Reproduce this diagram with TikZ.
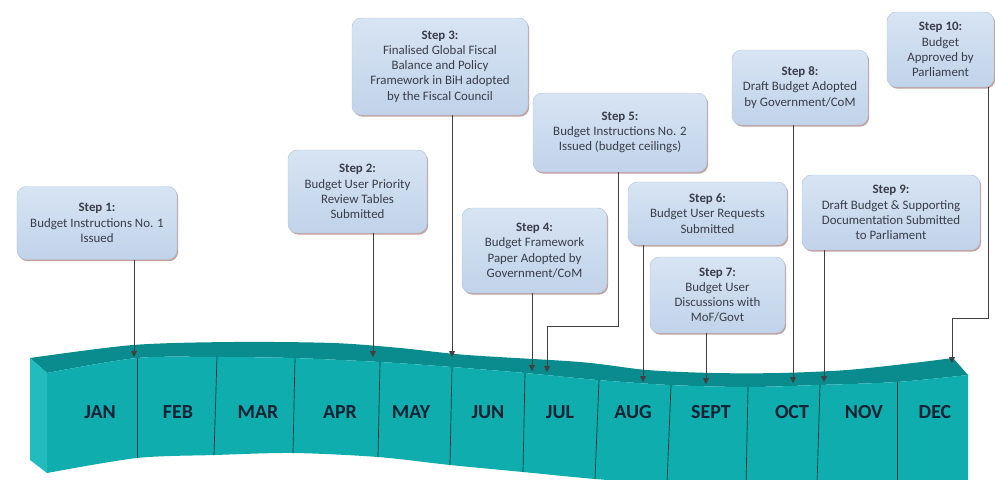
\documentclass[tikz,border=0pt]{standalone}
\usepackage{fontspec}
\setmainfont{Carlito}
\usepackage{tikz}
\usetikzlibrary{arrows.meta,shadows}
\definecolor{boxtop}{HTML}{D7E4F3}
\definecolor{boxbot}{HTML}{C1D3EA}
\definecolor{boxline}{HTML}{B5C6DB}
\definecolor{boxshade}{HTML}{A67875}
\definecolor{steptext}{HTML}{3A3D4A}
\definecolor{bandfront}{HTML}{10ADAF}
\definecolor{bandtop}{HTML}{0A8B8D}
\definecolor{bandside}{HTML}{22BBBE}
\definecolor{monthtext}{HTML}{0E2233}

\begin{document}
\begin{tikzpicture}[x=0.3mm, y=-0.3mm]
    \tikzstyle{stepbox} = [draw=boxline, line width=0.4pt, rounded corners=8pt, top color=boxtop, bottom color=boxbot,
        text=steptext, align=center, inner sep=2pt, font=\fontsize{11}{13}\selectfont,
        drop shadow={shadow xshift=1pt, shadow yshift=-1.4pt, fill=boxshade, opacity=0.7}]
    \tikzstyle{link} = [draw=black!75, line width=0.7pt, -{Triangle[width=5pt,length=5pt]}]
    \tikzstyle{divider} = [draw=black!70!bandfront, line width=0.6pt]
    \tikzstyle{monthlbl} = [text=monthtext, font=\fontsize{17}{17}\selectfont\bfseries]
    \useasboundingbox (0,0) rectangle (995,479);

    \begin{scope}
        \clip (0,0) rectangle (995,479);
        \fill[bandtop] plot[smooth] coordinates {(30,358) (133,345) (233,342) (333,343) (400,348) (467,355) (580,362)
            (647,370) (713,373) (780,373) (847,370) (913,363) (953,358)}
            -- plot[smooth] coordinates {(968,375) (897,382) (818,385) (747,387) (670,385) (598,380) (525,373)
            (452,367) (380,362) (293,358) (217,357) (137,358) (47,373)} -- cycle;
        \fill[bandfront] plot[smooth] coordinates {(47,373) (137,358) (217,357) (293,358) (380,362) (452,367) (525,373)
            (598,380) (670,385) (747,387) (818,385) (897,382) (968,375)}
            -- plot[smooth] coordinates {(968,482) (897,484) (817,486) (746,487) (667,484) (595,479) (523,472)
            (450,465) (378,457) (293,453) (215,455) (137,458) (47,473)} -- cycle;
        \fill[bandside] (30,358) -- (47,373) -- (47,473) -- (30,460) -- cycle;
        \foreach \xa/\ya/\xb/\yb in {137/358/137/458, 217/357/214/455, 295/358/293/453, 380/362/378/457,
            452/367/450/465, 525/373/523/472, 599/380/595/479, 671/385/667/484, 748/387/746/487,
            820/385/817/486, 897/382/897/484} {
            \draw[divider] (\xa,\ya) -- (\xb,\yb);
        }
    \end{scope}

    \foreach \m/\x in {JAN/100, FEB/178, MAR/258, APR/340, MAY/411, JUN/488, JUL/560, AUG/633, SEPT/711,
        OCT/792, NOV/864, DEC/935} {
        \node[monthlbl] (\m) at (\x,412) {\m};
    }

    \node[stepbox, minimum width=48mm, minimum height=21.9mm] (s1) at (97,223)
        {\textbf{Step 1:}\\ Budget Instructions No. 1\\ Issued};
    \node[stepbox, minimum width=41.7mm, minimum height=24.9mm] (s2) at (357.5,191.5)
        {\textbf{Step 2:}\\ Budget User Priority\\ Review Tables\\ Submitted};
    \node[stepbox, minimum width=52.8mm, minimum height=29.1mm] (s3) at (440,66.5)
        {\textbf{Step 3:}\\ Finalised Global Fiscal\\ Balance and Policy\\ Framework in BiH adopted\\ by the Fiscal Council};
    \node[stepbox, minimum width=43.5mm, minimum height=25.5mm] (s4) at (534.5,250.5)
        {\textbf{Step 4:}\\ Budget Framework\\ Paper Adopted by\\ Government/CoM};
    \node[stepbox, minimum width=52.2mm, minimum height=23.7mm] (s5) at (620,132.5)
        {\textbf{Step 5:}\\ Budget Instructions No. 2\\ Issued (budget ceilings)};
    \node[stepbox, minimum width=47.7mm, minimum height=18.9mm] (s6) at (707.5,213.5)
        {\textbf{Step 6:}\\ Budget User Requests\\ Submitted};
    \node[stepbox, minimum width=40.5mm, minimum height=22.8mm] (s7) at (717.5,295)
        {\textbf{Step 7:}\\ Budget User\\ Discussions with\\ MoF/Govt};
    \node[stepbox, minimum width=40.8mm, minimum height=22.5mm] (s8) at (800,87.5)
        {\textbf{Step 8:}\\ Draft Budget Adopted\\ by Government/CoM};
    \node[stepbox, minimum width=53.4mm, minimum height=22.5mm] (s9) at (891,212.5)
        {\textbf{Step 9:}\\ Draft Budget \& Supporting\\ Documentation Submitted\\ to Parliament};
    \node[stepbox, minimum width=32.1mm, minimum height=22.5mm] (s10) at (940.5,49.5)
        {\textbf{Step 10:}\\ Budget\\ Approved by\\ Parliament};

    \coordinate (a1) at (134,357);
    \coordinate (a2) at (373,357);
    \coordinate (a3) at (452,357);
    \coordinate (a4) at (532,371);
    \coordinate (a5) at (547,372);
    \coordinate (a6) at (643,382);
    \coordinate (a7) at (706,384);
    \coordinate (a8) at (793,383);
    \coordinate (a9) at (824,382);
    \coordinate (a10) at (952,363);
    \coordinate (p5) at (618,326);
    \coordinate (p10) at (988,318);

    \draw[link] (s1.south -| a1) -- (a1);
    \draw[link] (s2.south -| a2) -- (a2);
    \draw[link] (s3.south -| a3) -- (a3);
    \draw[link] (s4.south -| a4) -- (a4);
    \draw[link] (s5.south -| p5) -- (p5) -| (a5);
    \draw[link] (s6.south -| a6) -- (a6);
    \draw[link] (s7.south -| a7) -- (a7);
    \draw[link] (s8.south -| a8) -- (a8);
    \draw[link] (s9.south -| a9) -- (a9);
    \draw[link] (s10.south -| p10) -- (p10) -| (a10);
\end{tikzpicture}
\end{document}
